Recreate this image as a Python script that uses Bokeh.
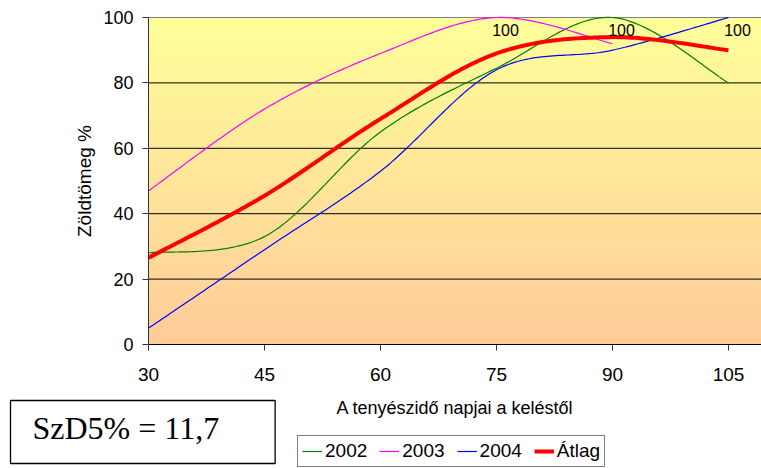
import numpy as np
from bokeh.plotting import figure
from bokeh.models import (Range1d, FixedTicker, Legend, LegendItem, Label,
                          ColumnDataSource)
from bokeh.core.properties import value
from bokeh.embed import file_html
from bokeh.resources import INLINE

# ---- data ----
days = [30, 45, 60, 75, 90, 105]
y2002 = [28, 33, 65, 84.5, 100, 80]
days2003 = [30, 45, 60, 75, 90]
y2003 = [47, 72, 89, 100, 92]
y2004 = [5, 29, 53, 84, 90, 100]
atlag = [26.5, 45.5, 69, 89, 94, 90]
x_ticks = [30, 45, 60, 75, 90, 105]
y_ticks = [0, 20, 40, 60, 80, 100]
grid_ticks = [20, 40, 60, 80]
szd_text = "SzD5% = 11,7"

FONT = "Liberation Sans"

# ---- layout (pixels) ----
W, H = 761, 468
PLOT_L, PLOT_T, PLOT_B = 148, 17, 344   # plot area edges in the picture
X0, Y0, Y1 = 30, 0, 100                 # axis start/end values
PX_PER_X = 116 / 15.0                   # pixels per day
PX_PER_Y = (PLOT_B - PLOT_T) / (Y1 - Y0)

x_lo = X0 - PLOT_L / PX_PER_X
x_hi = X0 + (W - PLOT_L) / PX_PER_X
y_lo = Y0 - (H - PLOT_B) / PX_PER_Y
y_hi = Y1 + PLOT_T / PX_PER_Y


def smooth(xs, ys, n=40):
    """Excel-like smoothed line (cardinal Bezier through the points)."""
    pts = np.column_stack([xs, ys]).astype(float)
    ext = np.vstack([pts[0], pts, pts[-1]])
    outx, outy = [], []
    t = np.linspace(0, 1, n)
    for i in range(len(pts) - 1):
        p0, p1, p2, p3 = ext[i], ext[i + 1], ext[i + 2], ext[i + 3]
        c1 = p1 + (p2 - p0) / 6.0
        c2 = p2 - (p3 - p1) / 6.0
        b = ((1 - t) ** 3)[:, None] * p1 + (3 * (1 - t) ** 2 * t)[:, None] * c1 \
            + (3 * (1 - t) * t ** 2)[:, None] * c2 + (t ** 3)[:, None] * p2
        if i > 0:
            b = b[1:]
        outx.extend(b[:, 0]); outy.extend(b[:, 1])
    return outx, outy


p = figure(width=W, height=H, output_backend="svg", toolbar_location=None,
           x_range=Range1d(x_lo, x_hi), y_range=Range1d(y_lo, y_hi),
           min_border_left=0, min_border_right=0, min_border_top=0,
           min_border_bottom=0, background_fill_color="white",
           border_fill_color="white", outline_line_color=None,
           x_axis_location="below", y_axis_location="left")

# background gradient (light yellow top -> peach bottom)
rows = 200
top = np.array([255, 255, 153]); bot = np.array([255, 204, 153])
fr = np.linspace(0, 1, rows)[:, None]
cols = (bot * (1 - fr) + top * fr).astype(np.uint32)
rgba = (np.uint32(255) << 24) | (cols[:, 2] << 16) | (cols[:, 1] << 8) | cols[:, 0]
img = np.repeat(rgba[:, None], 2, axis=1).astype(np.uint32)
p.image_rgba(image=[img], x=X0, y=Y0, dw=x_hi - X0, dh=Y1 - Y0)

# grid lines (only inside the plot area)
p.xgrid.visible = False
p.ygrid.visible = False
p.segment(x0=[X0] * len(grid_ticks), x1=[x_hi] * len(grid_ticks),
          y0=grid_ticks, y1=grid_ticks, line_color="#000000", line_width=1)
p.segment(x0=[X0], x1=[x_hi], y0=[Y1], y1=[Y1], line_color="#808080", line_width=1)

# axes drawn at the plot-area edges
p.xaxis.fixed_location = Y0
p.yaxis.fixed_location = X0
p.xaxis.bounds = (X0, x_hi)
p.yaxis.bounds = (Y0, Y1)
p.xaxis.ticker = FixedTicker(ticks=x_ticks)
p.yaxis.ticker = FixedTicker(ticks=y_ticks)
for ax in (p.xaxis[0], p.yaxis[0]):
    ax.major_tick_in = 0
    ax.major_tick_out = 6
    ax.minor_tick_in = 0
    ax.minor_tick_out = 0
    ax.major_label_text_font = FONT
    ax.major_label_text_color = "#000000"
    ax.axis_label_text_font = FONT
    ax.axis_label_text_font_style = "normal"
    ax.axis_label_text_color = "#000000"
p.xaxis.axis_line_color = "#000000"
p.yaxis.axis_line_color = "#333333"
p.xaxis.major_tick_line_color = "#333333"
p.yaxis.major_tick_line_color = "#333333"
p.xaxis.major_label_text_font_size = "19px"
p.yaxis.major_label_text_font_size = "18px"
p.xaxis.major_label_standoff = 17
p.yaxis.major_label_standoff = 9
p.xaxis.axis_label = "A tenyészidő napjai a keléstől"
p.yaxis.axis_label = "Zöldtömeg %"
p.xaxis.axis_label_text_font_size = "18px"
p.yaxis.axis_label_text_font_size = "19px"
p.xaxis.axis_label_standoff = 14
p.yaxis.axis_label_standoff = 5

# series
sx, sy = smooth(days, y2002)
r1 = p.line(sx, sy, line_color="#008000", line_width=1.2)
sx, sy = smooth(days2003, y2003)
r2 = p.line(sx, sy, line_color="#FF00FF", line_width=1.2)
sx, sy = smooth(days, y2004)
r3 = p.line(sx, sy, line_color="#0000FF", line_width=1.2)
sx, sy = smooth(days, atlag)
r4 = p.line(sx, sy, line_color="#FF0000", line_width=4)

# data labels at 100 %
lx, ly = [], []
for xs, ys in ((days, y2002), (days2003, y2003), (days, y2004)):
    for xv, yv in zip(xs, ys):
        if yv >= 100:
            lx.append(xv); ly.append(yv)
src = ColumnDataSource(dict(x=lx, y=ly, t=["100"] * len(lx)))
p.text(x="x", y="y", text="t", source=src, x_offset=9, y_offset=12,
       text_font=value(FONT), text_font_size="16px", text_color="#000000",
       text_align="center", text_baseline="middle")

legend = Legend(items=[LegendItem(label="2002", renderers=[r1]),
                       LegendItem(label="2003", renderers=[r2]),
                       LegendItem(label="2004", renderers=[r3]),
                       LegendItem(label="Átlag", renderers=[r4])],
                orientation="horizontal", location=(297, 1),
                label_text_font=FONT, label_text_font_size="19px",
                label_text_color="#000000",
                glyph_width=20, glyph_height=20, label_standoff=3, spacing=12,
                padding=4, margin=0, border_line_color="#000000",
                border_line_width=1, background_fill_color="white",
                background_fill_alpha=1, label_height=20)
p.add_layout(legend, "center")

box = Label(x=10, y=H - 400, x_units="screen", y_units="screen", text=szd_text,
            text_font="Liberation Serif", text_font_size="32px",
            text_color="#000000", text_align="left", text_baseline="top",
            border_line_color="#000000", border_line_width=1.3,
            background_fill_color="white", padding=(22, 56, 9, 18))
p.add_layout(box)

open("out.html", "w").write(file_html(p, INLINE))
